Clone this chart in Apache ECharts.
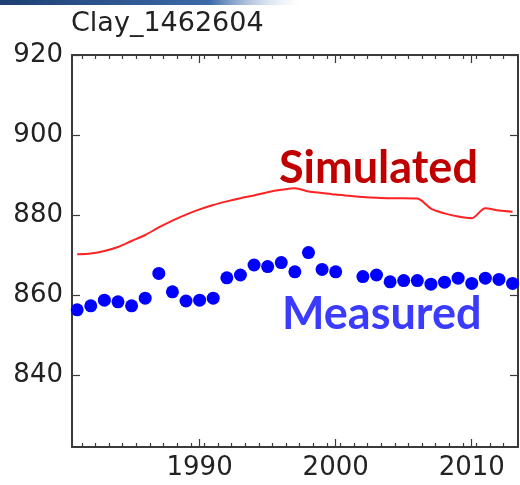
<!DOCTYPE html>
<html>
<head>
<meta charset="utf-8">
<script src="https://cdn.jsdelivr.net/npm/echarts@6/dist/echarts.min.js"></script>
<style>
  html, body { margin: 0; padding: 0; background: #fff; }
  #chart { width: 520px; height: 485px; }
</style>
</head>
<body>
<div id="chart"></div>
<script>
// data
var years = [1981, 1982, 1983, 1984, 1985, 1986, 1987, 1988, 1989, 1990,
  1991, 1992, 1993, 1994, 1995, 1996, 1997, 1998, 1999, 2000,
  2001, 2002, 2003, 2004, 2005, 2006, 2007, 2008, 2009, 2010,
  2011, 2012, 2013];
var simulated = [870.2, 870.4, 871.0, 872.0, 873.5, 875.0, 876.9, 878.6, 880.1, 881.4,
  882.5, 883.4, 884.2, 884.9, 885.7, 886.3, 886.7, 885.9, 885.5, 885.1,
  884.8, 884.5, 884.3, 884.2, 884.2, 884.1, 881.6, 880.4, 879.6, 879.2,
  881.7, 881.1, 880.8];
var measured = [856.3, 857.3, 858.7, 858.3, 857.3, 859.2, 865.4, 860.8, 858.5, 858.7,
  859.2, 864.3, 865.0, 867.5, 867.1, 868.1, 865.8, 870.6, 866.4, 865.8,
  null, 864.6, 865.0, 863.3, 863.6, 863.6, 862.7, 863.2, 864.2, 862.9,
  864.2, 863.9, 862.9];
var xLabels = [1990, 2000, 2010];
var yLabels = [840, 860, 880, 900, 920];
var minorTicks = [];
for (var y = 1980; y <= 2012; y++) minorTicks.push(y + 0.35);

var chart = echarts.init(document.getElementById('chart'));

var xMin = 1980.62, xMax = 2013.4;
var axisColor = '#3a3a3a';
var labelFont = { color: '#222', fontSize: 26, fontFamily: 'DejaVu Sans' };

function xAx(pos, ticks, len, showLine, showLabel) {
  return {
    type: 'value', position: pos, min: xMin, max: xMax,
    axisLine: { show: showLine, onZero: false, lineStyle: { color: axisColor, width: 2 } },
    splitLine: { show: false },
    axisTick: { show: true, inside: true, length: len, customValues: ticks,
      lineStyle: { color: axisColor, width: 1.2 } },
    axisLabel: Object.assign({ show: showLabel, margin: 8, customValues: xLabels,
      formatter: function (v) { return String(v); } }, labelFont)
  };
}

function yAx(pos, showLabel) {
  return {
    type: 'value', position: pos, min: 822, max: 920,
    axisLine: { show: true, onZero: false, lineStyle: { color: axisColor, width: 2 } },
    splitLine: { show: false },
    axisTick: { show: true, inside: true, length: 8, customValues: yLabels,
      lineStyle: { color: axisColor, width: 1.2 } },
    axisLabel: Object.assign({ show: showLabel, margin: 9, customValues: yLabels }, labelFont)
  };
}

chart.setOption({
  animation: false,
  backgroundColor: '#fff',
  grid: { left: 72, right: 2, top: 55, bottom: 38 },
  xAxis: [
    xAx('bottom', xLabels, 8, true, true),
    xAx('bottom', minorTicks, 4, false, false),
    xAx('top', xLabels, 8, true, false),
    xAx('top', minorTicks, 4, false, false)
  ],
  yAxis: [yAx('left', true), yAx('right', false)],
  graphic: [
    {
      type: 'rect', left: 0, top: 0, shape: { width: 300, height: 5 },
      style: { fill: new echarts.graphic.LinearGradient(0, 0, 1, 0, [
        { offset: 0, color: '#1d3f72' }, { offset: 0.7, color: '#3c6aa8' }, { offset: 1, color: 'rgba(200,215,235,0)' }]) }
    },
    {
      type: 'text', left: 71, top: 10,
      style: { text: 'Clay_1462604', fill: '#222', fontSize: 27, fontFamily: 'DejaVu Sans' }
    },
    {
      type: 'text', left: 279, top: 146,
      style: { text: 'Simulated', fill: '#c00000', fontSize: 45, fontWeight: 'bold', fontFamily: 'Lato' }
    },
    {
      type: 'text', left: 282, top: 292,
      style: { text: 'Measured', fill: '#3b3bff', fontSize: 45, fontWeight: 'bold', fontFamily: 'Lato' }
    }
  ],
  series: [
    {
      name: 'Simulated', type: 'line', xAxisIndex: 0, yAxisIndex: 0,
      data: years.map(function (yr, i) { return [yr, simulated[i]]; }),
      showSymbol: false, smooth: 0.3,
      lineStyle: { color: '#ff2222', width: 2 }
    },
    {
      name: 'Measured', type: 'scatter', xAxisIndex: 0, yAxisIndex: 0,
      data: years.map(function (yr, i) { return [yr, measured[i]]; })
        .filter(function (d) { return d[1] !== null; }),
      symbol: 'circle', symbolSize: 13,
      itemStyle: { color: '#0000ff', opacity: 1 }
    }
  ]
});
</script>
</body>
</html>
